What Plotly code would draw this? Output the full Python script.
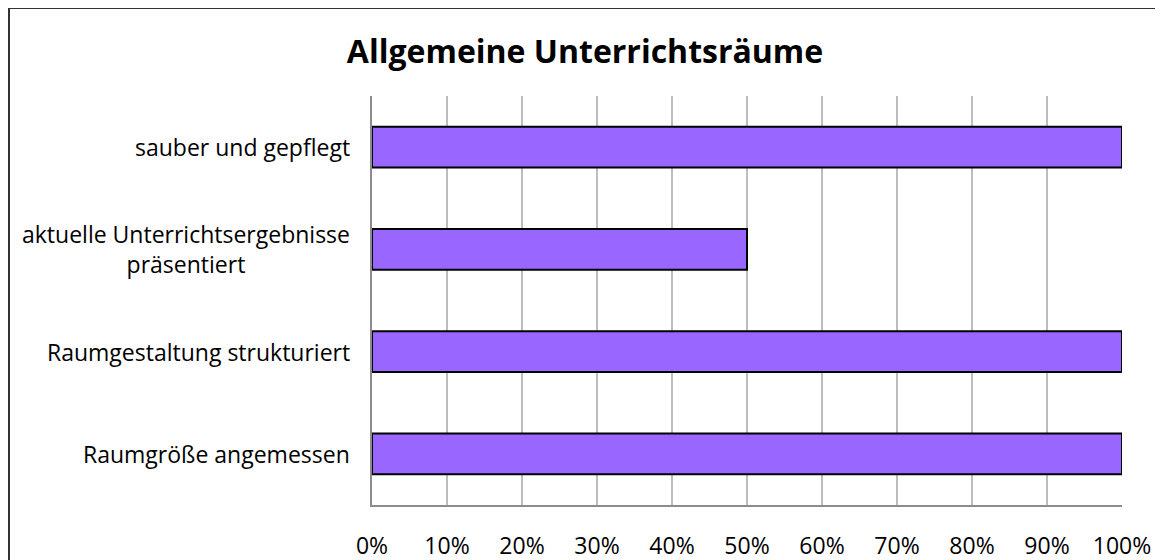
import plotly.graph_objects as go

categories = [
    "sauber und gepflegt",
    "aktuelle Unterrichtsergebnisse<br>präsentiert",
    "Raumgestaltung strukturiert",
    "Raumgröße angemessen",
]
values = [1.0, 0.5, 1.0, 1.0]
x_ticks = [i / 10 for i in range(11)]

FONT = "Open Sans"

# page body adds an 8px margin, so the figure is 8px smaller than the window
W, H = 1155, 552

fig = go.Figure(go.Bar(
    x=values,
    y=categories,
    orientation="h",
    marker=dict(color="#9966FF", line=dict(color="black", width=2)),
    hoverinfo="skip",
))

fig.update_layout(
    width=W, height=H,
    margin=dict(l=364, r=41, t=88, b=55),
    paper_bgcolor="white", plot_bgcolor="white",
    bargap=0.6,
    showlegend=False,
    font=dict(family=FONT, size=22, color="black"),
    title=dict(text="<b>Allgemeine Unterrichtsräume</b>", x=577 / W, xanchor="center",
               y=1 - 44 / H, yanchor="middle", font=dict(family=FONT, size=32)),
)

fig.update_xaxes(
    range=[0, 1], tickvals=x_ticks, tickformat=".0%",
    showgrid=True, gridcolor="#BDBDBD", gridwidth=1.5,
    showline=True, linecolor="#8C8C8C", linewidth=1.5,
    zeroline=False, ticks="", ticklabelstandoff=20, automargin=False,
    tickfont=dict(size=23),
)
fig.update_yaxes(
    categoryorder="array", categoryarray=categories[::-1],
    showgrid=False, showline=True, linecolor="#8C8C8C", linewidth=1.5,
    showticklabels=False, ticks="", automargin=False,
)

# category labels, centred for the two-line one
for cat in categories:
    fig.add_annotation(
        x=0, xref="paper", y=cat, yref="y", text=cat,
        xanchor="right", xshift=-20, align="center", showarrow=False,
        font=dict(size=23),
    )

# outer chart border
fig.add_shape(type="rect", xref="paper", yref="paper",
              x0=(1 - 364) / 750, x1=2, y0=-1, y1=(497 - 0) / 409,
              line=dict(color="#333333", width=2), fillcolor="rgba(0,0,0,0)")

fig.write_html("out.html")
